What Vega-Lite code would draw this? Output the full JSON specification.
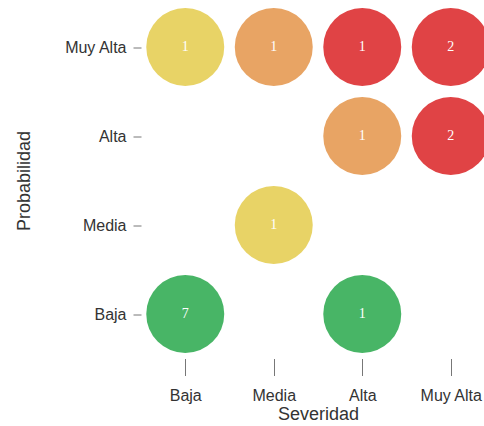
{
  "$schema": "https://vega.github.io/schema/vega-lite/v6.json",
  "width": 343,
  "height": 356,
  "autosize": {"type": "none"},
  "padding": {"left": 141, "top": 2.5, "right": 0, "bottom": 67.5},
  "data": {
    "values": [
      {"probabilidad": "Muy Alta", "severidad": "Baja", "n": 1, "nivel": "Medio"},
      {"probabilidad": "Muy Alta", "severidad": "Media", "n": 1, "nivel": "Alto"},
      {"probabilidad": "Muy Alta", "severidad": "Alta", "n": 1, "nivel": "Crítico"},
      {"probabilidad": "Muy Alta", "severidad": "Muy Alta", "n": 2, "nivel": "Crítico"},
      {"probabilidad": "Alta", "severidad": "Alta", "n": 1, "nivel": "Alto"},
      {"probabilidad": "Alta", "severidad": "Muy Alta", "n": 2, "nivel": "Crítico"},
      {"probabilidad": "Media", "severidad": "Media", "n": 1, "nivel": "Medio"},
      {"probabilidad": "Baja", "severidad": "Baja", "n": 7, "nivel": "Bajo"},
      {"probabilidad": "Baja", "severidad": "Alta", "n": 1, "nivel": "Bajo"}
    ]
  },
  "config": {
    "view": {"stroke": null},
    "axis": {
      "labelFont": "Liberation Sans",
      "titleFont": "Liberation Sans",
      "labelFontSize": 16,
      "titleFontSize": 18,
      "titleFontWeight": "normal",
      "labelColor": "#333333",
      "titleColor": "#333333",
      "tickColor": "#777777",
      "domain": false,
      "grid": false
    }
  },
  "encoding": {
    "x": {
      "field": "severidad",
      "type": "ordinal",
      "sort": ["Baja", "Media", "Alta", "Muy Alta"],
      "scale": {"type": "point", "range": [44.25, 309.75], "padding": 0},
      "axis": {
        "title": "Severidad",
        "labelAngle": 0,
        "tickSize": 17,
        "labelPadding": 12,
        "titlePadding": 2,
        "titleX": 177
      }
    },
    "y": {
      "field": "probabilidad",
      "type": "ordinal",
      "sort": ["Muy Alta", "Alta", "Media", "Baja"],
      "scale": {"type": "point", "padding": 0.5},
      "axis": {
        "title": "Probabilidad",
        "tickSize": 8,
        "labelPadding": 7,
        "titlePadding": 30
      }
    }
  },
  "layer": [
    {
      "mark": {"type": "circle", "size": 6084, "opacity": 1},
      "encoding": {
        "color": {
          "field": "nivel",
          "type": "nominal",
          "scale": {
            "domain": ["Bajo", "Medio", "Alto", "Crítico"],
            "range": ["#48B566", "#E8D366", "#E8A464", "#E04345"]
          },
          "legend": null
        }
      }
    },
    {
      "mark": {"type": "text", "font": "Liberation Serif", "fontSize": 14, "color": "white"},
      "encoding": {"text": {"field": "n", "type": "quantitative"}}
    }
  ]
}
